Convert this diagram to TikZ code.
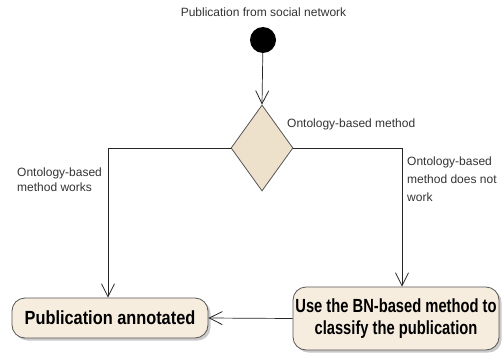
\documentclass[tikz,border=0pt]{standalone}
\usepackage{fontspec}
\setmainfont{Liberation Sans}
\newfontfamily\boxfontA{Liberation Sans}[FakeStretch=0.86]
\newfontfamily\boxfontB{Liberation Sans}[FakeStretch=0.775]
\usetikzlibrary{arrows.meta,shapes.geometric,shadows}
\definecolor{boxfill}{HTML}{F6EDDF}
\definecolor{decfill}{HTML}{EEE1CC}
\definecolor{edge}{HTML}{555555}
\begin{document}
\begin{tikzpicture}[x=1pt,y=-1pt,
  lbl/.style={font=\fontsize{12}{14.6}\selectfont, text=black!80, inner sep=0pt, align=left},
  act/.style={draw=edge, line width=0.8pt, rounded corners=13pt, fill=boxfill,
    drop shadow={shadow xshift=2.5pt, shadow yshift=-2.5pt, opacity=0.35, fill=black!60},
    align=center, inner sep=0pt},
  flow/.style={draw=black!85, line width=0.7pt, -{Straight Barb[length=13pt,width=13pt,line width=0.8pt]}}
]
\useasboundingbox (0,0) rectangle (502,353);
\node[lbl, anchor=base] (title) at (263.5,17) {Publication from social network};
\node[circle, fill=black, minimum size=26pt, inner sep=0pt] (start) at (263,40) {};
\node[diamond, draw=edge, line width=0.8pt, fill=decfill, minimum width=62pt, minimum height=86pt, inner sep=0pt] (dec) at (262,148) {};
\node[lbl, anchor=base west] (declbl) at (287,127) {Ontology-based method};
\node[act, minimum width=196pt, minimum height=40pt, font=\boxfontA\bfseries\fontsize{19}{22}\selectfont] (ann) at (110,318) {Publication annotated};
\node[act, minimum width=206pt, minimum height=63pt, font=\boxfontB\bfseries\fontsize{19}{22}\selectfont] (bn) at (396,318.5) {Use the BN-based method to\\classify the publication};
\node[lbl, anchor=north west] (leftlbl) at (17,168) {Ontology-based\\method works};
\node[lbl, anchor=north west, font=\fontsize{12}{17.6}\selectfont] (rightlbl) at (407,157) {Ontology-based\\method does not\\work};
\coordinate (lc) at (108,148);
\coordinate (rc) at (402,148);
\draw[flow] (start) -- (dec.north);
\draw[flow] (dec.west) -- (lc) -- (ann.north -| lc);
\draw[flow] (dec.east) -- (rc) -- (bn.north -| rc);
\draw[flow] (bn.west) -- (ann.east);
\end{tikzpicture}
\end{document}
